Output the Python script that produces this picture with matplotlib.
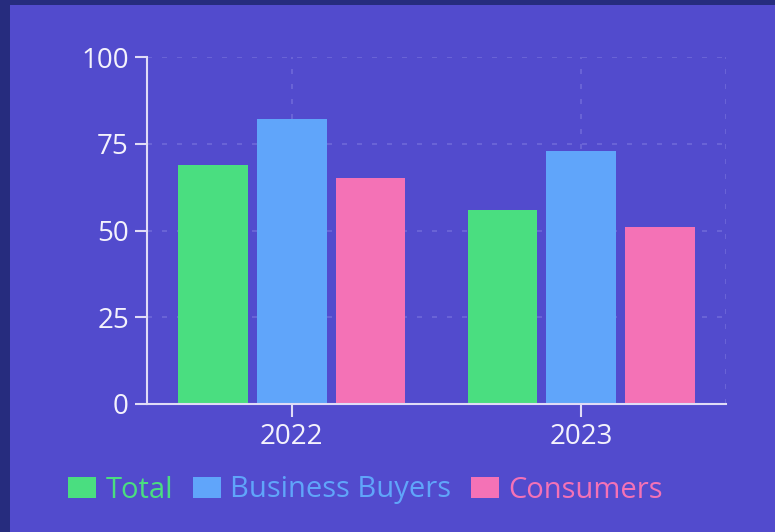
import matplotlib.pyplot as plt
import matplotlib.patches as mpatches
import numpy as np

plt.rcParams['font.family'] = ['Open Sans', 'DejaVu Sans']

years = ["2022", "2023"]
series = ["Total", "Business Buyers", "Consumers"]
total = [69, 56]
business = [82, 73]
consumers = [65, 51]
colors = ["#4ade80", "#60a5fa", "#f472b6"]
yticks = [0, 25, 50, 75, 100]

bg = "#524bcd"
axcol = "#e0dcf6"
gridcol = "#6e68d8"

fig = plt.figure(figsize=(7.75, 5.32), dpi=100)
fig.patch.set_facecolor("#262c7e")
fig.patches.append(mpatches.Rectangle((10/775, 0), 1, 1 - 5/532, transform=fig.transFigure,
                                      facecolor=bg, edgecolor="none", zorder=-5))

ax = fig.add_axes([147/775, 1 - 404/532, 579/775, 347/532])
ax.set_facecolor("none")

x = np.arange(len(years))
step = 0.272
width = 0.241
for i, (vals, c, name) in enumerate(zip([total, business, consumers], colors, series)):
    ax.bar(x + (i - 1) * step, vals, width=width, color=c, label=name, zorder=3)

ax.set_xlim(-0.5, 1.5)
ax.set_ylim(0, 100)
ax.set_yticks(yticks)
ax.set_xticks(x)
ax.set_xticklabels(years)

for s in ["top", "right"]:
    ax.spines[s].set_visible(False)
for s in ["left", "bottom"]:
    ax.spines[s].set_color(axcol)
    ax.spines[s].set_linewidth(1.5)
    ax.spines[s].set_zorder(4)
ax.tick_params(colors=axcol, labelcolor="#f4f2fc", labelsize=20, length=9, width=1.5)
ax.tick_params(axis="y", pad=4)
ax.tick_params(axis="x", pad=5)

for yv in yticks[1:]:
    ax.axhline(yv, color=gridcol, lw=1.2, ls=(0, (3, 6)), zorder=1)
for xv in [0, 1, 1.5]:
    ax.axvline(xv, color=gridcol, lw=1.2, ls=(0, (3, 6)), zorder=1)

handles, labels = ax.get_legend_handles_labels()
leg = fig.legend(handles, labels, loc="center left", bbox_to_anchor=(68/775, 1 - 490/532),
                 ncol=3, frameon=False, fontsize=21, handlelength=0.96, handleheight=0.75,
                 handletextpad=0.33, columnspacing=0.67, borderaxespad=0, borderpad=0)
for t, c in zip(leg.get_texts(), colors):
    t.set_color(c)

fig.savefig("out.png", dpi=100, facecolor=fig.get_facecolor())
